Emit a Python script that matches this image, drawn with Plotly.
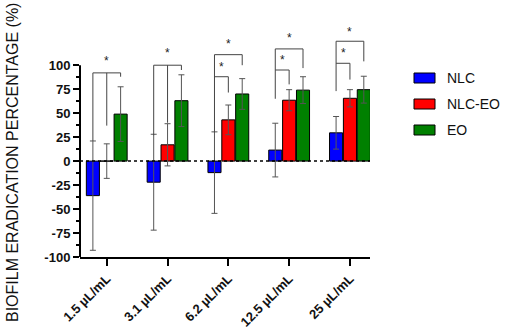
import plotly.graph_objects as go

categories = ["1.5 µL/mL", "3.1 µL/mL", "6.2 µL/mL", "12.5 µL/mL", "25 µL/mL"]
series_names = ["NLC", "NLC-EO", "EO"]
series_colors = ["#0000FF", "#FF0000", "#008000"]
nlc = [-36, -22, -12, 11.5, 29.5]
nlc_err = [57, 50, 42.5, 28, 17]
nlceo = [0, 17, 43, 63.5, 65.5]
nlceo_err = [18, 22, 15.5, 11, 9]
eo = [49, 63, 70, 74, 74.5]
eo_err = [28.5, 27, 16, 14, 14]
values = [nlc, nlceo, eo]
errors = [nlc_err, nlceo_err, eo_err]

y_ticks = [-100, -75, -50, -25, 0, 25, 50, 75, 100]
y_minor = [-87.5, -62.5, -37.5, -12.5, 12.5, 37.5, 62.5, 87.5]

# significance brackets: (category, from series, to series, top, left leg end, right leg end, star y)
brackets = [
    (0, 0, 2, 92, 21, 88, 104),
    (1, 0, 2, 100, 27, 95, 113),
    (2, 0, 2, 111, 30, 100, 122.5),
    (2, 0, 1, 88, 88, 71.5, 98),
    (3, 0, 2, 117, 65, 97, 128.5),
    (3, 0, 1, 95, 95, 80, 105),
    (4, 0, 2, 125, 73, 104, 135),
    (4, 0, 1, 102, 102, 85, 113),
]
# extra middle legs: (category, top, bottom)
middle_legs = [(0, 92, 37), (1, 100, 40)]

bar_w = 0.215
offsets = [-1.5 * bar_w - 0.013, -0.5 * bar_w, 0.5 * bar_w + 0.013]

fig = go.Figure()
for k in range(3):
    fig.add_trace(go.Bar(
        x=categories, y=values[k], name=series_names[k],
        marker=dict(color=series_colors[k], line=dict(color="black", width=1)),
        width=bar_w, offset=offsets[k],
        error_y=dict(type="data", array=errors[k], visible=True,
                     color="#555555", thickness=1, width=3),
        showlegend=False,
    ))

centers = [offsets[k] + bar_w / 2 for k in range(3)]
shapes = []
annotations = []
lc = "#444444"
for (c, a, b, top, la, lb, sy) in brackets:
    xa = c + centers[a]
    xb = c + centers[b]
    shapes.append(dict(type="path", xref="x", yref="y",
                       path=f"M {xa},{la} L {xa},{top} L {xb},{top} L {xb},{lb}",
                       line=dict(color=lc, width=1)))
    annotations.append(dict(x=(xa + xb) / 2, y=sy, xref="x", yref="y", text="*",
                            showarrow=False, font=dict(size=12, color="#222222",
                                                       family="Liberation Sans")))
for (c, top, bot) in middle_legs:
    xm = c + centers[1]
    shapes.append(dict(type="line", xref="x", yref="y", x0=xm, x1=xm, y0=top, y1=bot,
                       line=dict(color=lc, width=1)))

# y axis line (only -100..100)
shapes.append(dict(type="line", xref="paper", yref="y", x0=0, x1=0, y0=-100, y1=100,
                   line=dict(color="black", width=2)))
# zero line
shapes.append(dict(type="line", xref="paper", yref="y", x0=0, x1=1, y0=0, y1=0,
                   line=dict(color="black", width=1.5, dash="dot")))

# legend (manual)
leg_y = [78, 104, 130]
for k in range(3):
    py = 1 - leg_y[k] / 257
    shapes.append(dict(type="rect", xref="paper", yref="paper",
                       x0=(414 - 80) / 290, x1=(435 - 80) / 290,
                       y0=py - 5 / 257, y1=py + 5 / 257,
                       fillcolor=series_colors[k], line=dict(color="black", width=1)))
    annotations.append(dict(x=(445 - 80) / 290, y=py, xref="paper", yref="paper",
                            text=series_names[k], showarrow=False, xanchor="left",
                            yanchor="middle",
                            font=dict(size=14, color="#111111", family="Liberation Sans")))

annotations.append(dict(x=(12 - 80) / 290, y=(257 - 163) / 257, xref="paper", yref="paper",
                        text="BIOFILM ERADICATION PERCENTAGE (%)", textangle=-90,
                        showarrow=False, xanchor="center", yanchor="middle",
                        font=dict(size=16, color="#111111", family="Liberation Sans")))

fig.update_layout(
    width=505, height=331,
    margin=dict(l=80, r=135, t=0, b=74, autoexpand=False),
    plot_bgcolor="white", paper_bgcolor="white",
    barmode="overlay",
    shapes=shapes, annotations=annotations,
    font=dict(family="Liberation Sans", color="#111111"),
    xaxis=dict(type="category", range=[-0.44, 4.33], showline=True, linecolor="black",
               linewidth=2, ticks="outside", ticklen=7, tickwidth=2, tickcolor="black",
               tickangle=-45, showgrid=False, zeroline=False, automargin=False,
               tickfont=dict(size=13, family="Liberation Sans", weight="bold", color="#111111")),
    yaxis=dict(range=[-100, 168], tickvals=y_ticks, ticktext=[str(v) for v in y_ticks],
               showline=False, ticks="outside", ticklen=6, tickwidth=2, tickcolor="black",
               showgrid=False, zeroline=False, automargin=False,
               minor=dict(tickvals=y_minor, ticks="outside", ticklen=3, tickwidth=1.5,
                          tickcolor="black", showgrid=False),
               tickfont=dict(size=13, family="Liberation Sans", weight="bold", color="#111111")),
)

fig.write_html("out.html", config={"displayModeBar": False},
               post_script="document.body.style.margin='0';document.body.style.padding='0';")
